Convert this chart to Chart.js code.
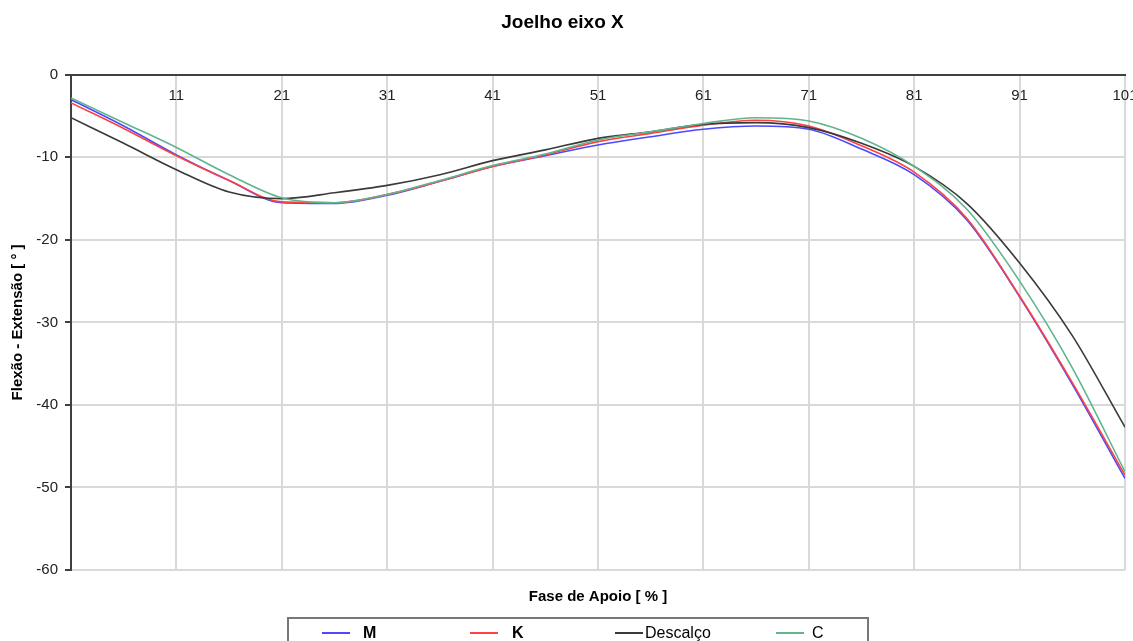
<!DOCTYPE html>
<html>
<head>
<meta charset="utf-8">
<script src="https://cdn.jsdelivr.net/npm/chart.js@4.4.1/dist/chart.umd.min.js"></script>
<style>
  html, body { margin: 0; padding: 0; background: #fff; }
  #wrap { position: relative; width: 1133px; height: 641px; overflow: hidden; }
  #legend {
    position: absolute; left: 287px; top: 617px; width: 582px; height: 40px;
    border: 2px solid #777; box-sizing: border-box;
    font-family: "Liberation Sans", Arial, sans-serif; font-size: 16px; color: #000;
  }
  .item { position: absolute; top: 4px; height: 20px; display: flex; align-items: center; }
  .swatch { width: 28px; height: 2px; }
</style>
</head>
<body>
<div id="wrap">
  <canvas id="chart" width="1133" height="641"></canvas>
  <div id="legend"></div>
</div>
<script>
// Fase de apoio [%] sampled every 5 points
const phase = [1, 6, 11, 16, 21, 26, 31, 36, 41, 46, 51, 56, 61, 66, 71, 76, 81, 86, 91, 96, 101];

const kneeM = [-3.0, -6.2, -9.7, -12.8, -15.5, -15.6, -14.6, -12.9, -11.1, -9.8, -8.5,
               -7.5, -6.6, -6.2, -6.6, -9.0, -12.1, -17.6, -26.9, -37.5, -48.9];
const kneeK = [-3.4, -6.5, -9.8, -12.8, -15.4, -15.5, -14.5, -12.9, -11.1, -9.7, -8.1,
               -7.1, -6.1, -5.5, -6.2, -8.6, -11.8, -17.4, -26.8, -37.3, -48.5];
const kneeDescalco = [-5.2, -8.3, -11.5, -14.2, -15.0, -14.3, -13.4, -12.1, -10.4, -9.1, -7.7,
                      -6.9, -6.0, -5.8, -6.4, -8.3, -11.1, -15.6, -22.8, -31.6, -42.7];
const kneeC = [-2.8, -5.8, -8.8, -12.1, -14.9, -15.5, -14.5, -12.8, -11.0, -9.6, -7.9,
               -6.9, -5.9, -5.2, -5.6, -7.7, -11.1, -16.3, -25.0, -35.5, -48.1];

const seriesNames = ['M', 'K', 'Descalço', 'C'];
const seriesColors = ['#4a4aff', '#ff4040', '#3a3a3a', '#5fb58c'];
const seriesValues = [kneeM, kneeK, kneeDescalco, kneeC];

const xTicks = [1, 11, 21, 31, 41, 51, 61, 71, 81, 91, 101];
const yTicks = [0, -10, -20, -30, -40, -50, -60];

const FONT = '"Liberation Sans", Arial, sans-serif';
Chart.defaults.font.family = FONT;
Chart.defaults.color = '#000';

const datasets = seriesNames.map((name, i) => ({
    label: name,
    data: phase.map((p, j) => ({ x: p, y: seriesValues[i][j] })),
    borderColor: seriesColors[i],
    backgroundColor: seriesColors[i],
    borderWidth: 1.6,
    pointRadius: 0,
    cubicInterpolationMode: 'monotone',
    order: seriesNames.length - i,
}));

new Chart(document.getElementById('chart'), {
    type: 'line',
    data: { datasets },
    options: {
        responsive: false,
        animation: false,
        layout: { padding: { top: 0, right: 8, bottom: 31, left: 0 } },
        plugins: {
            legend: { display: false },
            tooltip: { enabled: false },
            title: {
                display: true,
                text: 'Joelho eixo X',
                font: { size: 19, weight: 'bold' },
                color: '#000',
                padding: { top: 11, bottom: 41 },
            },
        },
        scales: {
            x: {
                type: 'linear',
                min: 1,
                max: 101,
                position: { y: 0 },
                afterBuildTicks: (scale) => {
                    scale.ticks = xTicks.map((v) => ({ value: v }));
                },
                afterFit: (scale) => {
                    scale.paddingLeft = 0;
                    scale.paddingRight = 0;
                },
                ticks: {
                    autoSkip: false,
                    maxRotation: 0,
                    padding: 12,
                    font: { size: 15 },
                    color: '#222',
                    callback: (v) => (v === 1 ? '' : String(v)),
                },
                grid: { color: '#d9d9d9', lineWidth: 2, drawTicks: false },
                border: { color: '#404040', width: 2 },
            },
            x2: {
                type: 'linear',
                min: 1,
                max: 101,
                position: 'bottom',
                ticks: { display: false },
                grid: { display: false },
                border: { display: false },
                title: {
                    display: true,
                    text: 'Fase de Apoio [ % ]',
                    font: { size: 15, weight: 'bold' },
                    color: '#000',
                    padding: { top: 10, bottom: 4 },
                },
            },
            y: {
                min: -60,
                max: 0,
                afterBuildTicks: (scale) => {
                    scale.ticks = yTicks.map((v) => ({ value: v }));
                },
                afterFit: (scale) => {
                    scale.width = 71;
                },
                ticks: { font: { size: 15 }, color: '#222', padding: 7 },
                grid: { color: '#d9d9d9', lineWidth: 2, tickColor: '#404040', tickLength: 6 },
                border: { color: '#404040', width: 2 },
                title: {
                    display: true,
                    text: 'Flexão - Extensão [ ° ]',
                    font: { size: 15, weight: 'bold' },
                    color: '#000',
                    padding: { top: 9, bottom: 4 },
                },
            },
        },
    },
});

// legend box drawn as html, built from the series arrays
const legendLeft = [33, 181, 326, 487];
const legendGap = [13, 14, 2, 8];
const legendBold = [true, true, false, false];
const legend = document.getElementById('legend');
seriesNames.forEach((name, i) => {
    const item = document.createElement('div');
    item.className = 'item';
    item.style.left = legendLeft[i] + 'px';
    const sw = document.createElement('span');
    sw.className = 'swatch';
    sw.style.background = seriesColors[i];
    sw.style.marginRight = legendGap[i] + 'px';
    const txt = document.createElement('span');
    txt.textContent = name;
    if (legendBold[i]) txt.style.fontWeight = 'bold';
    item.appendChild(sw);
    item.appendChild(txt);
    legend.appendChild(item);
});
</script>
</body>
</html>
